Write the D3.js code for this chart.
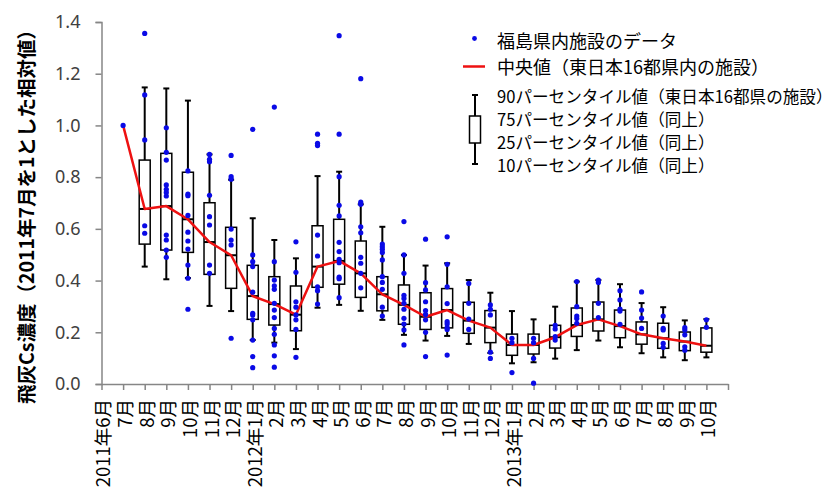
<!DOCTYPE html>
<html>
<head>
<meta charset="utf-8">
<script src="https://cdn.jsdelivr.net/npm/d3@7"></script>
<style>
  html, body { margin: 0; padding: 0; background: #fff; }
  svg { display: block; }
  text { font-family: "Noto Sans CJK JP", "Noto Sans", sans-serif; }
</style>
</head>
<body>
<svg id="chart" width="838" height="494"></svg>
<script>
// Months on the horizontal axis
const categories = ["2011年6月","7月","8月","9月","10月","11月","12月",
  "2012年1月","2月","3月","4月","5月","6月","7月","8月","9月","10月","11月","12月",
  "2013年1月","2月","3月","4月","5月","6月","7月","8月","9月","10月"];

// Percentiles for facilities in 16 prefectures of eastern Japan (null = no box)
const p90 = [null,null,1.147,1.143,1.096,0.888,0.790,0.641,0.557,0.486,0.804,0.821,0.695,0.608,0.499,0.458,0.467,0.402,0.353,0.282,0.250,0.299,0.396,0.402,0.386,0.313,0.297,0.246,0.251];
const p75 = [null,null,0.866,0.892,0.819,0.701,0.606,0.459,0.415,0.379,0.612,0.637,0.553,0.415,0.383,0.353,0.369,0.316,0.284,0.193,0.193,0.227,0.294,0.317,0.286,0.240,0.235,0.201,0.217];
const medians = [null,1.000,0.677,0.688,0.637,0.549,0.498,0.340,0.309,0.268,0.454,0.476,0.428,0.347,0.306,0.260,0.286,0.245,0.218,0.151,0.151,0.181,0.228,0.250,0.224,0.192,0.177,0.164,0.148];
const p25 = [null,null,0.541,0.518,0.509,0.424,0.370,0.250,0.228,0.206,0.374,0.386,0.335,0.283,0.231,0.211,0.217,0.196,0.160,0.111,0.116,0.139,0.184,0.205,0.179,0.154,0.138,0.129,0.123];
const p10 = [null,null,0.454,0.405,0.410,0.302,0.282,0.170,0.160,0.135,0.295,0.306,0.283,0.248,0.190,0.168,0.186,0.155,0.120,0.080,0.084,0.098,0.131,0.168,0.142,0.119,0.103,0.092,0.103];

// Individual facilities in Fukushima prefecture, per month
const fukushimaValues = [
  [],
  [1.0],
  [1.356,1.118,0.944,0.612,0.583],
  [0.991,0.896,0.866,0.770,0.753,0.741,0.727,0.576,0.557,0.518,0.490],
  [0.824,0.734,0.728,0.652,0.587,0.553,0.522,0.460,0.409,0.289],
  [0.888,0.869,0.860,0.730,0.647,0.615,0.460,0.428],
  [0.884,0.802,0.792,0.599,0.557,0.538,0.177],
  [0.985,0.499,0.473,0.454,0.355,0.273,0.267,0.248,0.170,0.106,0.063],
  [1.071,0.473,0.402,0.380,0.366,0.312,0.286,0.257,0.215,0.192,0.151,0.109,0.065],
  [0.550,0.432,0.318,0.297,0.267,0.248,0.211,0.103],
  [0.966,0.931,0.922,0.576,0.495,0.376,0.361,0.309],
  [1.347,0.966,0.802,0.691,0.650,0.548,0.512,0.482,0.469,0.413,0.407,0.334],
  [1.181,0.703,0.695,0.608,0.585,0.490,0.467,0.428,0.372],
  [0.541,0.531,0.521,0.509,0.480,0.415,0.393,0.366,0.297,0.263],
  [0.628,0.499,0.428,0.343,0.331,0.312,0.289,0.254,0.232,0.209,0.151],
  [0.560,0.392,0.364,0.318,0.284,0.269,0.248,0.200,0.106],
  [0.569,0.463,0.376,0.311,0.241,0.232,0.218,0.211,0.112],
  [0.389,0.312,0.251,0.211],
  [0.306,0.289,0.267,0.123,0.099],
  [0.177,0.160,0.044],
  [0.177,0.160,0.099,0.003],
  [0.227,0.213,0.183,0.170],
  [0.396,0.299,0.263,0.253,0.235],
  [0.402,0.393,0.312,0.257],
  [0.361,0.325,0.290,0.282,0.231],
  [0.356,0.286,0.255,0.215],
  [0.263,0.215,0.209,0.157,0.142],
  [0.218,0.209,0.190,0.144,0.131],
  [0.248,0.219]
];

const yTicks = [0, 0.2, 0.4, 0.6, 0.8, 1.0, 1.2, 1.4];

const legendLabels = [
  "福島県内施設のデータ",
  "中央値（東日本16都県内の施設）",
  "90パーセンタイル値（東日本16都県の施設）",
  "75パーセンタイル値（同上）",
  "25パーセンタイル値（同上）",
  "10パーセンタイル値（同上）"
];
const yTitle = "飛灰Cs濃度（2011年7月を1とした相対値）";

const svg = d3.select("#chart");
const axisColor = "#868686";

const x = d3.scaleLinear().domain([0, categories.length]).range([101.5, 728]);
const y = d3.scaleLinear().domain([0, 1.4]).range([384, 22]);

// Y axis
const yAxis = svg.append("g")
  .attr("transform", "translate(101.5,0)")
  .call(d3.axisLeft(y).tickValues(yTicks).tickFormat(d3.format(".1f")).tickSize(6).tickPadding(15));
yAxis.select(".domain").attr("stroke", axisColor).attr("stroke-width", 1.5);
yAxis.selectAll(".tick line").attr("stroke", axisColor).attr("stroke-width", 1.5);
yAxis.selectAll(".tick text")
  .attr("font-size", 18).attr("fill", "#404040")
  .style("font-family", "'Noto Sans', sans-serif");

// X axis
const xAxis = svg.append("g")
  .attr("transform", "translate(0,384)")
  .call(d3.axisBottom(x).tickValues(d3.range(0, categories.length + 1))
    .tickFormat(i => categories[i] || "").tickSize(6).tickSizeOuter(0));
xAxis.select(".domain").attr("stroke", axisColor).attr("stroke-width", 1.5);
xAxis.selectAll(".tick line").attr("stroke", axisColor).attr("stroke-width", 1.5);
xAxis.selectAll(".tick text")
  .attr("transform", "rotate(-90)")
  .attr("x", -15).attr("y", 2).attr("dy", "0.35em")
  .attr("text-anchor", "end")
  .attr("font-size", 18.5).attr("fill", "#000");

// Y axis title
svg.append("text")
  .attr("transform", "translate(25,212) rotate(-90)")
  .attr("text-anchor", "middle")
  .attr("dominant-baseline", "central")
  .attr("font-size", 19.5).attr("font-weight", "bold").attr("fill", "#000")
  .text(yTitle);

// Box plots
const boxW = 11, capW = 6;
const boxIdx = d3.range(categories.length).filter(i => p75[i] != null);
const boxes = svg.append("g").selectAll("g").data(boxIdx).join("g")
  .attr("transform", i => `translate(${x(i)},0)`);
boxes.append("line")
  .attr("y1", i => y(p90[i])).attr("y2", i => y(p75[i]))
  .attr("stroke", "#000").attr("stroke-width", 2);
boxes.append("line")
  .attr("y1", i => y(p25[i])).attr("y2", i => y(p10[i]))
  .attr("stroke", "#000").attr("stroke-width", 2);
boxes.append("line")
  .attr("x1", -capW / 2).attr("x2", capW / 2)
  .attr("y1", i => y(p90[i])).attr("y2", i => y(p90[i]))
  .attr("stroke", "#000").attr("stroke-width", 2);
boxes.append("line")
  .attr("x1", -capW / 2).attr("x2", capW / 2)
  .attr("y1", i => y(p10[i])).attr("y2", i => y(p10[i]))
  .attr("stroke", "#000").attr("stroke-width", 2);
boxes.append("rect")
  .attr("x", -boxW / 2).attr("width", boxW)
  .attr("y", i => y(p75[i])).attr("height", i => y(p25[i]) - y(p75[i]))
  .attr("fill", "#fff").attr("stroke", "#000").attr("stroke-width", 1.5);
boxes.append("line")
  .attr("x1", -boxW / 2).attr("x2", boxW / 2)
  .attr("y1", i => y(medians[i])).attr("y2", i => y(medians[i]))
  .attr("stroke", "#000").attr("stroke-width", 2);

// Median line
const medIdx = d3.range(categories.length).filter(i => medians[i] != null);
svg.append("path")
  .datum(medIdx)
  .attr("d", d3.line().x(i => x(i)).y(i => y(medians[i])))
  .attr("fill", "none").attr("stroke", "#ee1111").attr("stroke-width", 2.5)
  .attr("stroke-linejoin", "round");

// Fukushima facility points
const pts = fukushimaValues.flatMap((vals, i) => vals.map(v => ({ i, v })));
svg.append("g").selectAll("circle").data(pts).join("circle")
  .attr("cx", d => x(d.i)).attr("cy", d => y(d.v)).attr("r", 2.6)
  .attr("fill", "#0a0ae6");

// Legend
const lg = svg.append("g");
const lx = 497;
const rowY = [40, 66, 96, 119, 142, 165];
lg.selectAll("text").data(legendLabels).join("text")
  .attr("x", lx).attr("y", (d, k) => rowY[k])
  .attr("dominant-baseline", "central")
  .attr("font-size", (d, k) => k < 2 ? 18 : 16.6).attr("fill", "#000")
  .text(d => d);
lg.append("circle").attr("cx", 474.5).attr("cy", 38.5).attr("r", 2.4).attr("fill", "#0a0ae6");
lg.append("line").attr("x1", 463).attr("x2", 485).attr("y1", 66.5).attr("y2", 66.5)
  .attr("stroke", "#ee1111").attr("stroke-width", 2.5);
const lb = lg.append("g").attr("transform", "translate(475,0)");
lb.append("line").attr("y1", 95).attr("y2", 164).attr("stroke", "#000").attr("stroke-width", 2);
lb.append("line").attr("x1", -3).attr("x2", 3).attr("y1", 95).attr("y2", 95).attr("stroke", "#000").attr("stroke-width", 2);
lb.append("line").attr("x1", -3).attr("x2", 3).attr("y1", 164).attr("y2", 164).attr("stroke", "#000").attr("stroke-width", 2);
lb.append("rect").attr("x", -5.5).attr("width", 11).attr("y", 116).attr("height", 27)
  .attr("fill", "#fff").attr("stroke", "#000").attr("stroke-width", 1.5);
</script>
</body>
</html>
